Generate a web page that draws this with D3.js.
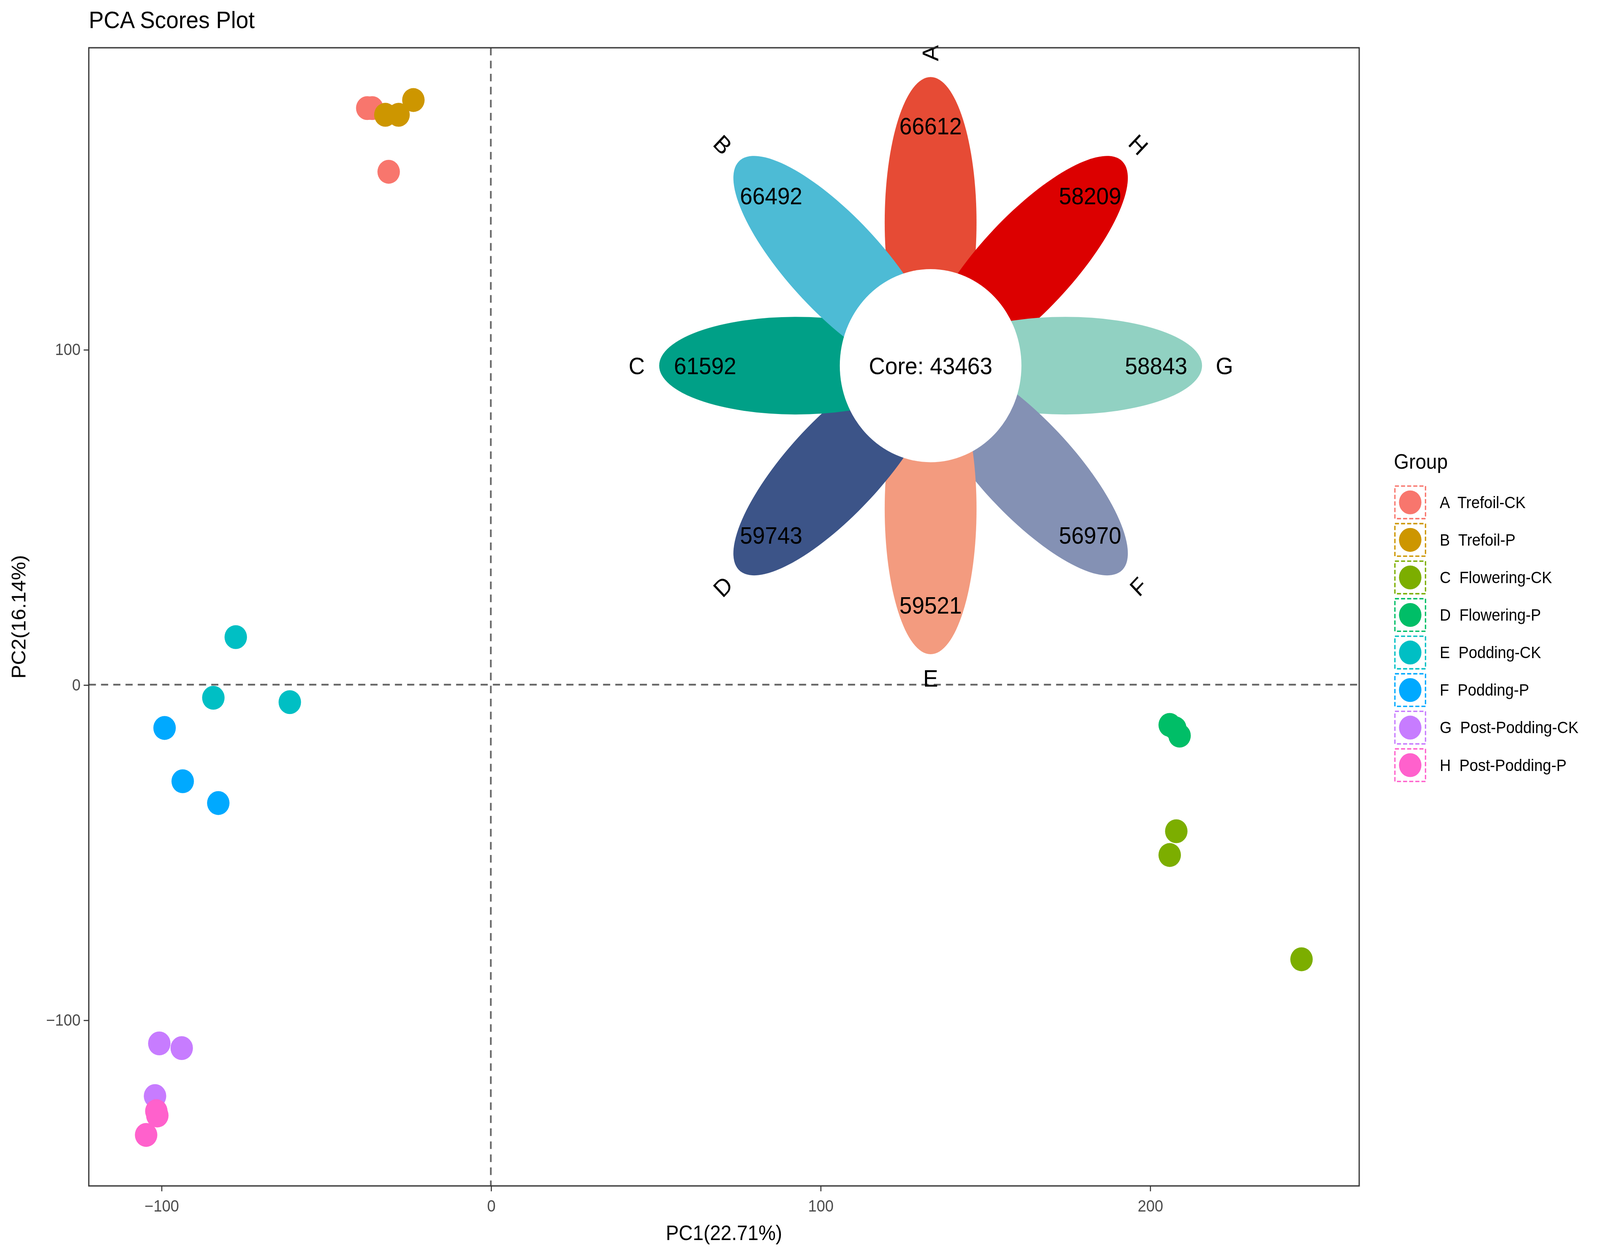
<!DOCTYPE html>
<html><head><meta charset="utf-8">
<script src="https://cdn.jsdelivr.net/npm/d3@7"></script>
<style>html,body{margin:0;padding:0;overflow:hidden;background:#fff}svg{display:block;position:fixed;left:0;top:0;width:100vw;height:100vh}text{font-family:"Liberation Sans",Arial,sans-serif}</style>
</head><body>
<svg id="c" viewBox="0 0 1568 1153" preserveAspectRatio="none"></svg>
<script>
const groups = ['A  Trefoil-CK','B  Trefoil-P','C  Flowering-CK','D  Flowering-P','E  Podding-CK','F  Podding-P','G  Post-Podding-CK','H  Post-Podding-P']
const groupColors = ['#F8766D','#CD9600','#7CAE00','#00BE67','#00BFC4','#00A9FF','#C77CFF','#FF61CC']
const pc1 = [-37.5,-36,-31, -32,-28,-23.5, 208,206,246, 206,207.7,209, -77.4,-84.2,-61, -99,-93.5,-82.7, -100.6,-93.8,-101.9, -101.5,-101.2,-104.6]
const pc2 = [172,172,153, 170,170,174.4, -43.7,-50.8,-81.9, -12,-13,-15.2, 14.2,-3.9,-5.2, -12.9,-28.8,-35.3, -107,-108.4,-122.7, -127.2,-128.5,-134.3]
const xTicks = [-100,0,100,200]
const yTicks = [-100,0,100]
const petalNames = ['A','H','G','F','E','D','C','B']
const petalAngles = [90,45,0,-45,-90,-135,180,135]
const petalValues = [66612,58209,58843,56970,59521,59743,61592,66492]
const petalColors = ['#E64B35','#DC0000','#91D1C2','#8491B4','#F39B7F','#3C5488','#00A087','#4DBBD5']
const labelRot = [-90,45,0,-45,0,-45,0,45]
const coreValue = 43463

const svg = d3.select('#c')
svg.append('rect').attr('width',1568).attr('height',1153).attr('fill','#fff')
const L=87,R=1332,T=44,B=1093
const x = d3.scaleLinear().domain([-122,263.5]).range([L,R])
const y = d3.scaleLinear().domain([190,-149.5]).range([T,B])

svg.append('text').attr('x',87).attr('y',26).attr('font-size',22).text('PCA Scores Plot')

svg.append('line').attr('x1',x(0)).attr('x2',x(0)).attr('y1',T).attr('y2',B).attr('stroke','#666').attr('stroke-width',1.6).attr('stroke-dasharray','7,5')
svg.append('line').attr('x1',L).attr('x2',R).attr('y1',y(0)).attr('y2',y(0)).attr('stroke','#666').attr('stroke-width',1.6).attr('stroke-dasharray','7,5')

const pts = pc1.map((v,i)=>({x:v,y:pc2[i],g:Math.floor(i/3)}))
svg.append('g').selectAll('circle').data(pts).join('circle')
  .attr('cx',d=>x(d.x)).attr('cy',d=>y(d.y)).attr('r',11).attr('fill',d=>groupColors[d.g])

// flower venn
const cx=912, cy=337
const fl = svg.append('g').attr('transform',`translate(${cx},${cy})`)
petalNames.forEach((n,i)=>{
  const a = petalAngles[i]
  fl.append('ellipse').attr('rx',134).attr('ry',45)
    .attr('transform',`rotate(${-a}) translate(132,0)`).attr('fill',petalColors[i])
})
fl.append('circle').attr('r',89).attr('fill','#fff')
fl.append('text').attr('text-anchor','middle').attr('dy','0.35em').attr('font-size',22).text('Core: '+coreValue)
petalNames.forEach((n,i)=>{
  const r = petalAngles[i]*Math.PI/180
  fl.append('text').attr('x',221*Math.cos(r)).attr('y',-221*Math.sin(r)).attr('text-anchor','middle').attr('dy','0.35em').attr('font-size',22).text(petalValues[i])
  const lx=288*Math.cos(r), ly=-288*Math.sin(r)
  fl.append('text').attr('transform',`translate(${lx},${ly}) rotate(${labelRot[i]})`).attr('text-anchor','middle').attr('dy','0.35em').attr('font-size',22).text(n)
})

svg.append('rect').attr('x',L).attr('y',T).attr('width',R-L).attr('height',B-T).attr('fill','none').attr('stroke','#333').attr('stroke-width',1.2)

const xa = svg.append('g').attr('transform',`translate(0,${B})`).call(d3.axisBottom(x).tickValues(xTicks).tickSize(5).tickSizeOuter(0))
const ya = svg.append('g').attr('transform',`translate(${L},0)`).call(d3.axisLeft(y).tickValues(yTicks).tickSize(5).tickSizeOuter(0).tickFormat(d=>d<0?'\u2212'+(-d):d))
xa.select('.domain').remove(); ya.select('.domain').remove()
;[xa,ya].forEach(a=>{a.selectAll('line').attr('stroke','#333');a.selectAll('text').attr('font-size',15).attr('fill','#4d4d4d').attr('font-family','"Liberation Sans",Arial')})
xa.selectAll('text').attr('dy','1.05em')
svg.append('text').attr('x',(L+R)/2).attr('y',1143).attr('text-anchor','middle').attr('font-size',19).text('PC1(22.71%)')
svg.append('text').attr('transform',`translate(25,${(T+B)/2}) rotate(-90)`).attr('text-anchor','middle').attr('font-size',19).text('PC2(16.14%)')

const lg = svg.append('g').attr('transform','translate(1366,0)')
lg.append('text').attr('x',0).attr('y',432).attr('font-size',19).text('Group')
groups.forEach((g,i)=>{
  const yy = 463 + i*34.6
  lg.append('rect').attr('x',1).attr('y',yy-15).attr('width',30).attr('height',30).attr('fill','#fff')
    .attr('stroke',groupColors[i]).attr('stroke-width',1.3).attr('stroke-dasharray','4,2')
  lg.append('circle').attr('cx',16).attr('cy',yy).attr('r',11).attr('fill',groupColors[i])
  lg.append('text').attr('x',45).attr('y',yy).attr('dy','0.35em').attr('font-size',15).attr('xml:space','preserve').text(g)
})
</script>
</body></html>
